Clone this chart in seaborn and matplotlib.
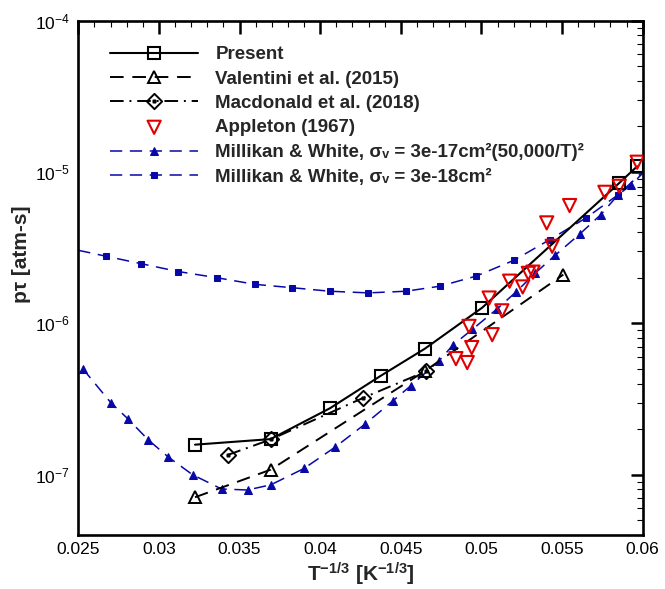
import numpy as np
import pandas as pd
import matplotlib
matplotlib.use("Agg")
import matplotlib.pyplot as plt
from matplotlib.path import Path
from matplotlib.lines import Line2D
from matplotlib.ticker import FixedLocator, MultipleLocator, LogLocator, NullFormatter
import seaborn as sns

# ---------------- data ----------------
present_x = [0.03224, 0.03693, 0.04061, 0.04375, 0.04650, 0.05005, 0.05855, 0.05966]
present_y = [1.58e-7, 1.72e-7, 2.75e-7, 4.50e-7, 6.81e-7, 1.27e-6, 8.46e-6, 1.09e-5]

valentini_x = [0.03224, 0.03693, 0.04650, 0.05508]
valentini_y = [7.10e-8, 1.08e-7, 4.85e-7, 2.10e-6]

macdonald_x = [0.03426, 0.03693, 0.04264, 0.04654]
macdonald_y = [1.35e-7, 1.71e-7, 3.21e-7, 4.81e-7]

appleton_x = [0.04842, 0.04912, 0.04940, 0.04923, 0.05067, 0.05048, 0.05127,
              0.05175, 0.05256, 0.05291, 0.05320, 0.05405, 0.05439, 0.05547,
              0.05766, 0.05855, 0.05966]
appleton_y = [5.85e-7, 5.51e-7, 6.92e-7, 9.55e-7, 8.42e-7, 1.47e-6, 1.21e-6,
              1.90e-6, 1.74e-6, 2.14e-6, 2.18e-6, 4.61e-6, 3.23e-6, 6.00e-6,
              7.34e-6, 8.04e-6, 1.16e-5]

mw17_x = [0.02527, 0.02701, 0.02806, 0.02934, 0.03058, 0.03209, 0.03389, 0.03550,
          0.03695, 0.03900, 0.04092, 0.04278, 0.04450, 0.04563, 0.04739, 0.04825,
          0.04944, 0.05095, 0.05214, 0.05332, 0.05456, 0.05611, 0.05741, 0.05849,
          0.05925, 0.06000]
mw17_y = [5.03e-7, 3.00e-7, 2.35e-7, 1.70e-7, 1.31e-7, 1.00e-7, 8.05e-8, 7.93e-8,
          8.59e-8, 1.10e-7, 1.52e-7, 2.16e-7, 3.07e-7, 3.88e-7, 5.68e-7, 7.22e-7,
          9.13e-7, 1.24e-6, 1.61e-6, 2.14e-6, 2.81e-6, 3.90e-6, 5.23e-6, 7.09e-6,
          8.16e-6, 9.8e-6]

mw18_x = [0.02500, 0.02670, 0.02889, 0.03120, 0.03362, 0.03596, 0.03827, 0.04061,
          0.04298, 0.04530, 0.04743, 0.04966, 0.05202, 0.05425, 0.05650, 0.05849,
          0.06000]
mw18_y = [3.04e-6, 2.78e-6, 2.48e-6, 2.20e-6, 2.00e-6, 1.81e-6, 1.72e-6, 1.63e-6,
          1.59e-6, 1.63e-6, 1.76e-6, 2.05e-6, 2.61e-6, 3.58e-6, 4.98e-6, 7.09e-6,
          1.00e-5]

labels = ["Present",
          "Valentini et al. (2015)",
          "Macdonald et al. (2018)",
          "Appleton (1967)",
          "Millikan & White, σᵥ = 3e-17cm²(50,000/T)²",
          "Millikan & White, σᵥ = 3e-18cm²"]

x_ticks = [0.025, 0.03, 0.035, 0.04, 0.045, 0.05, 0.055, 0.06]
x_ticklabels = ["0.025", "0.03", "0.035", "0.04", "0.045", "0.05", "0.055", "0.06"]
y_ticks = [1e-7, 1e-6, 1e-5, 1e-4]
y_ticklabels = ["10$^{-7}$", "10$^{-6}$", "10$^{-5}$", "10$^{-4}$"]

# ---------------- style ----------------
sns.set_theme(style="white")
plt.rcParams["font.family"] = ["Liberation Sans", "DejaVu Sans"]
plt.rcParams["mathtext.default"] = "regular"

BLACK = "#000000"
BLUE = "#0808a8"
RED = "#e00000"

# diamond with a centre dot
_d = 0.5
_s = 0.07
diamond_dot = Path(
    [(0, _d), (_d, 0), (0, -_d), (-_d, 0), (0, _d),
     (-_s, -_s), (_s, -_s), (_s, _s), (-_s, _s), (-_s, -_s)],
    [Path.MOVETO, Path.LINETO, Path.LINETO, Path.LINETO, Path.CLOSEPOLY,
     Path.MOVETO, Path.LINETO, Path.LINETO, Path.LINETO, Path.CLOSEPOLY])

fig = plt.figure(figsize=(6.65, 5.89), dpi=100)
ax = fig.add_axes([0.1177, 0.0917, 0.8487, 0.8733])
ax.set_yscale("log")

common = dict(ax=ax, estimator=None, sort=False, legend=False)

sns.lineplot(x=present_x, y=present_y, color=BLACK, lw=1.5, marker="s", ms=8,
             mfc="none", mec=BLACK, mew=1.5, label=labels[0], zorder=3, **common)
sns.lineplot(x=valentini_x, y=valentini_y, color=BLACK, lw=1.4,
             linestyle=(0, (7, 4.5)), marker="^", ms=9, mfc="none", mec=BLACK,
             mew=1.4, label=labels[1], zorder=3, **common)
sns.lineplot(x=macdonald_x, y=macdonald_y, color=BLACK, lw=1.4,
             linestyle=(0, (7, 3, 1, 3)), marker=diamond_dot, ms=11, mfc="none",
             mec=BLACK, mew=1.4, label=labels[2], zorder=3, **common)
sns.scatterplot(x=appleton_x, y=appleton_y, ax=ax, marker="v", s=90,
                facecolors="none", edgecolor=RED, linewidth=1.5,
                label=labels[3], zorder=4, legend=False)
sns.lineplot(x=mw17_x, y=mw17_y, color=BLUE, lw=1.1, linestyle=(0, (8, 5)),
             marker="^", ms=5.5, mfc=BLUE, mec=BLUE,
             markevery=list(range(len(mw17_x) - 1)),
             label=labels[4], zorder=2, **common)
sns.lineplot(x=mw18_x, y=mw18_y, color=BLUE, lw=1.1, linestyle=(0, (8, 5)),
             marker="s", ms=5, mfc=BLUE, mec=BLUE,
             markevery=list(range(1, len(mw18_x) - 1)),
             label=labels[5], zorder=2, **common)

# ---------------- axes ----------------
ax.set_xlim(0.025, 0.06)
ax.set_ylim(4e-8, 1e-4)
ax.xaxis.set_major_locator(FixedLocator(x_ticks))
ax.set_xticklabels(x_ticklabels)
ax.xaxis.set_minor_locator(MultipleLocator(0.001))
ax.yaxis.set_major_locator(FixedLocator(y_ticks))
ax.set_yticklabels(y_ticklabels)
ax.yaxis.set_minor_locator(LogLocator(base=10, subs=np.arange(2, 10), numticks=20))
ax.yaxis.set_minor_formatter(NullFormatter())

ax.tick_params(which="both", direction="in", top=True, right=True,
               colors=BLACK, labelsize=12.5)
ax.tick_params(which="major", length=9, width=1.8)
ax.tick_params(which="minor", length=4.5, width=0.8)
ax.tick_params(axis="x", which="major", pad=5)
ax.tick_params(axis="y", which="major", pad=6)
for sp in ax.spines.values():
    sp.set_linewidth(1.9)
    sp.set_color(BLACK)

ax.set_xlabel("T$^{-1/3}$ [K$^{-1/3}$]", fontsize=15, fontweight="bold", labelpad=2.5)
ax.set_ylabel("pτ [atm-s]", fontsize=15, fontweight="bold")
ax.yaxis.set_label_coords(-0.083, 0.545)

# ---------------- legend ----------------
handles, hlabels = ax.get_legend_handles_labels()
order = [hlabels.index(l) for l in labels]
leg = ax.legend([handles[i] for i in order], [hlabels[i] for i in order],
                loc="upper left", bbox_to_anchor=(0.056, 0.950),
                frameon=False, borderaxespad=0, borderpad=0,
                handlelength=4.72, handletextpad=0.9,
                labelspacing=0.38,
                prop={"size": 13.5, "weight": "bold"}, numpoints=1)
for h in leg.legend_handles:
    if isinstance(h, Line2D):
        h.set_markevery([1])

fig.savefig("out.png", dpi=100)
